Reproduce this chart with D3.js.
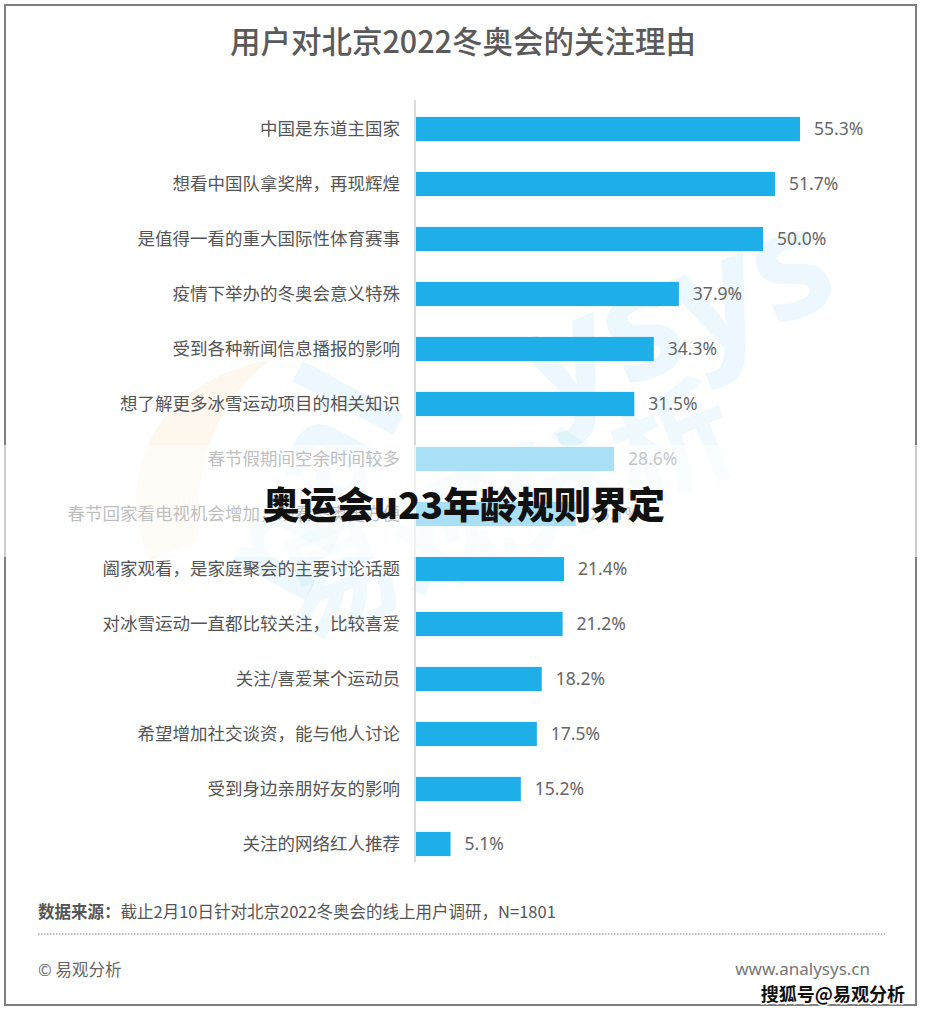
<!DOCTYPE html>
<html><head><meta charset="utf-8">
<script src="https://cdn.jsdelivr.net/npm/d3@7/dist/d3.min.js"></script>
<style>
html,body{margin:0;padding:0;background:#fff;}
svg{display:block;font-family:"Noto Sans CJK SC","Noto Sans",sans-serif;}
</style></head>
<body>
<svg id="chart" width="926" height="1014"></svg>
<script>
const title = "用户对北京2022冬奥会的关注理由";
const categories = [
  "中国是东道主国家",
  "想看中国队拿奖牌，再现辉煌",
  "是值得一看的重大国际性体育赛事",
  "疫情下举办的冬奥会意义特殊",
  "受到各种新闻信息播报的影响",
  "想了解更多冰雪运动项目的相关知识",
  "春节假期间空余时间较多",
  "春节回家看电视机会增加，观看冬奥更方便",
  "阖家观看，是家庭聚会的主要讨论话题",
  "对冰雪运动一直都比较关注，比较喜爱",
  "关注/喜爱某个运动员",
  "希望增加社交谈资，能与他人讨论",
  "受到身边亲朋好友的影响",
  "关注的网络红人推荐"
];
const values = [55.3, 51.7, 50.0, 37.9, 34.3, 31.5, 28.6, 23.1, 21.4, 21.2, 18.2, 17.5, 15.2, 5.1];
const sourceLabel = "数据来源：";
const sourceText = "截止2月10日针对北京2022冬奥会的线上用户调研，N=1801";
const copyright = "© 易观分析";
const website = "www.analysys.cn";
const overlayText = "奥运会u23年龄规则界定";
const sohuText = "搜狐号@易观分析";

const svg = d3.select("#chart");
const W = 926, H = 1014;

// frame
svg.append("rect").attr("x",5).attr("y",5).attr("width",911).attr("height",1000)
  .attr("fill","#fff").attr("stroke","#7f7f7f").attr("stroke-width",2);

// watermark
const wm = svg.append("g").attr("pointer-events","none");
wm.append("path")
  .attr("d","M150,560 C110,470 160,380 270,360 C230,390 190,450 200,540 Z")
  .attr("fill","#f6a33a").attr("opacity",0.09);
wm.append("text").attr("transform","translate(300,610) rotate(-62)")
  .attr("font-size",150).attr("font-weight",700).attr("fill","#1eaee8").attr("opacity",0.08)
  .attr("font-family","Noto Sans").text("nal");
wm.append("text").attr("transform","translate(545,420) rotate(-22)")
  .attr("font-size",150).attr("font-weight",700).attr("fill","#1eaee8").attr("opacity",0.08)
  .attr("font-family","Noto Sans").text("ysys");
wm.append("text").attr("transform","translate(300,640) rotate(-22)")
  .attr("font-size",120).attr("font-weight",700).attr("fill","#1eaee8").attr("opacity",0.06)
  .text("易观分析");

// title
svg.append("text").attr("x",463).attr("y",53).attr("text-anchor","middle")
  .attr("font-size",30.5).attr("font-weight",500).attr("fill","#5a5a5a").text(title);

const x = d3.scaleLinear().domain([0, d3.max(values)]).range([415, 800]);
const y = d3.scaleBand().domain(categories).range([101.5, 871.5]).paddingInner(0.56).paddingOuter(0.28);

// axis line
svg.append("line").attr("x1",x(0)).attr("x2",x(0)).attr("y1",100).attr("y2",862)
  .attr("stroke","#cfcfcf").attr("stroke-width",1.5);

const rows = svg.append("g").selectAll("g").data(categories).join("g");
rows.append("rect")
  .attr("x", x(0)+1)
  .attr("y", d => y(d))
  .attr("width", (d,i) => x(values[i]) - x(0) - 1)
  .attr("height", y.bandwidth())
  .attr("fill", "#1eaee8");
rows.append("text")
  .attr("x", 400).attr("y", d => y(d) + y.bandwidth()/2)
  .attr("dy","0.36em").attr("text-anchor","end")
  .attr("font-size",17.5).attr("fill","#555").text(d => d);
rows.append("text")
  .attr("x", (d,i) => x(values[i]) + 14).attr("y", d => y(d) + y.bandwidth()/2)
  .attr("dy","0.36em").attr("text-anchor","start")
  .attr("font-family","Noto Sans").attr("font-size",17.5).attr("fill","#666")
  .text((d,i) => d3.format(".1f")(values[i]) + "%");

// footer
const src = svg.append("text").attr("x",38).attr("y",918).attr("font-size",16.5).attr("fill","#555");
src.append("tspan").attr("font-weight",700).text(sourceLabel);
src.append("tspan").text(sourceText);
svg.append("line").attr("x1",38).attr("x2",885).attr("y1",934).attr("y2",934)
  .attr("stroke","#888").attr("stroke-width",1).attr("stroke-dasharray","1.5,1.5");
svg.append("text").attr("x",38).attr("y",976).attr("font-size",16.5).attr("fill","#666").text(copyright);
svg.append("text").attr("x",870).attr("y",975).attr("text-anchor","end")
  .attr("font-family","Noto Sans").attr("font-size",17).attr("fill","#777").text(website);

// overlay band
svg.append("rect").attr("x",0).attr("y",445).attr("width",W).attr("height",112)
  .attr("fill","#fff").attr("opacity",0.62);
svg.append("text").attr("x",464).attr("y",519).attr("text-anchor","middle")
  .attr("font-size",37).attr("font-weight",900).attr("fill","#111").text(overlayText);

// sohu mark
svg.append("text").attr("x",905).attr("y",1001).attr("text-anchor","end")
  .attr("font-size",18).attr("font-weight",700).attr("fill","#111")
  .attr("stroke","#fff").attr("stroke-width",3).attr("paint-order","stroke").text(sohuText);
</script>
</body></html>
